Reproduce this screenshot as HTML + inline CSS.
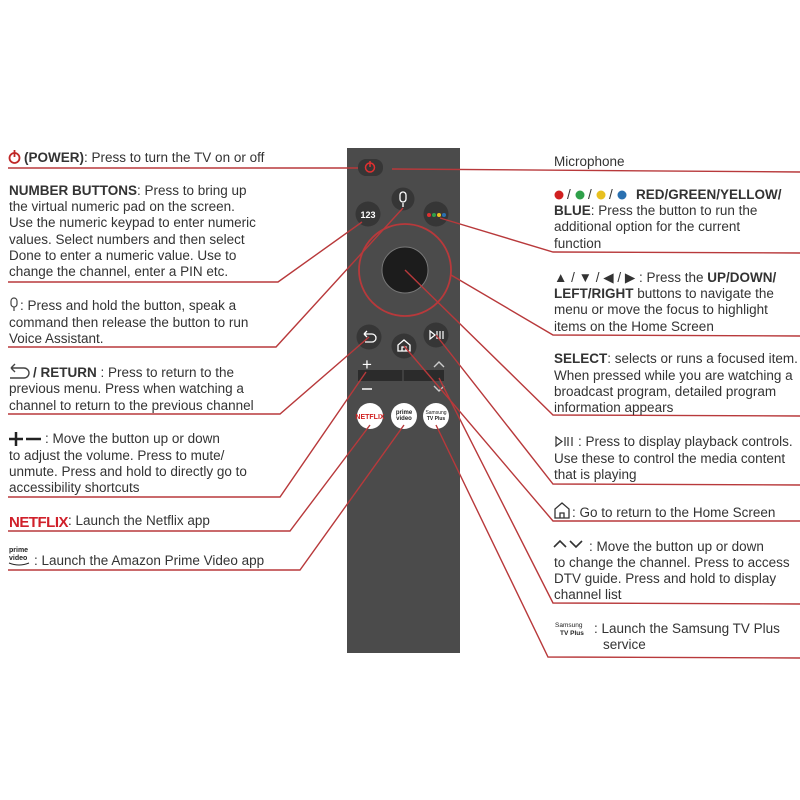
<!DOCTYPE html>
<html><head><meta charset="utf-8"><style>
html,body{margin:0;padding:0;background:#fff;}
svg{display:block;}
text{font-family:"Liberation Sans","DejaVu Sans",sans-serif;font-size:13.5px;fill:#333;}
.b{font-weight:bold;}
.l{stroke:#b8393b;stroke-width:1.4;fill:none;}
</style></head><body>
<svg width="800" height="800" viewBox="0 0 800 800" xmlns="http://www.w3.org/2000/svg">
<!-- remote -->
<rect x="347" y="148" width="113" height="505" fill="#4b4b4b"/>
<rect x="358" y="159" width="25" height="17" rx="8" fill="#363636"/>
<circle cx="370" cy="167.5" r="4.5" fill="none" stroke="#e03030" stroke-width="1.5"/>
<line x1="370" y1="161" x2="370" y2="167" stroke="#e03030" stroke-width="1.5"/>
<circle cx="403" cy="199" r="11.5" fill="#363636"/>
<rect x="400" y="192" width="6" height="10" rx="3" fill="none" stroke="#fff" stroke-width="1.3"/>
<line x1="403" y1="203" x2="403" y2="207" stroke="#fff" stroke-width="1.3"/>
<circle cx="368" cy="214" r="12.5" fill="#363636"/>
<text x="368" y="218" text-anchor="middle" style="font-size:9px;font-weight:bold;fill:#fff">123</text>
<circle cx="436" cy="214" r="12.5" fill="#363636"/>
<circle cx="429" cy="215" r="2" fill="#e03030"/><circle cx="434" cy="215" r="2" fill="#2fa04a"/><circle cx="439" cy="215" r="2" fill="#e8c020"/><circle cx="444" cy="215" r="2" fill="#2a70b0"/>
<circle cx="405" cy="270" r="46" fill="none" stroke="#b8393b" stroke-width="1.8"/>
<circle cx="405" cy="270" r="23" fill="#1c1c1c" stroke="#777" stroke-width="1"/>
<circle cx="369" cy="337" r="12.5" fill="#363636"/>
<path d="M364 334 h8 a4 4 0 0 1 0 8 h-7 M364 334 l3 -3 M364 334 l3 3" stroke="#fff" stroke-width="1.3" fill="none"/>
<circle cx="404" cy="346" r="12.5" fill="#363636"/>
<path d="M398 351 v-6 l6 -5 l6 5 v6 z M402 351 v-4 h4 v4" stroke="#fff" stroke-width="1.3" fill="none"/>
<circle cx="436" cy="335" r="12.5" fill="#363636"/>
<path d="M430 331 l5 4 l-5 4 z M437 331 v8 M440 331 v8 M443 331 v8" stroke="#fff" stroke-width="1.2" fill="none"/>
<text x="367" y="370" text-anchor="middle" style="font-size:17px;fill:#fff">+</text>
<rect x="358" y="370" width="86" height="11" fill="#2b2b2b"/>
<line x1="403" y1="370" x2="403" y2="381" stroke="#555" stroke-width="1"/>
<line x1="362" y1="389" x2="372" y2="389" stroke="#fff" stroke-width="1.5"/>
<path d="M434 367 l5 -5 l5 5" stroke="#ccc" stroke-width="1.4" fill="none"/>
<path d="M434 386 l5 5 l5 -5" stroke="#ccc" stroke-width="1.4" fill="none"/>
<circle cx="370" cy="416" r="13" fill="#fff"/>
<text x="370" y="419" text-anchor="middle" style="font-size:7px;font-weight:bold;fill:#d02020">NETFLIX</text>
<circle cx="404" cy="416" r="13" fill="#fff"/>
<text x="404" y="414" text-anchor="middle" style="font-size:6px;font-weight:bold;fill:#222">prime</text>
<text x="404" y="420" text-anchor="middle" style="font-size:6px;font-weight:bold;fill:#222">video</text>
<circle cx="436" cy="416" r="13" fill="#fff"/>
<text x="436" y="414" text-anchor="middle" style="font-size:5px;fill:#222">Samsung</text>
<text x="436" y="420" text-anchor="middle" style="font-size:5px;font-weight:bold;fill:#222">TV Plus</text>

<!-- leader lines -->
<polyline class="l" points="8,168 358,168"/>
<polyline class="l" points="392,169 800,172"/>
<polyline class="l" points="8,282 278,282 362,222"/>
<polyline class="l" points="8,347 276,347 403,208"/>
<polyline class="l" points="8,414 280,414 369,337"/>
<polyline class="l" points="8,497 280,497 366,372"/>
<polyline class="l" points="8,531 290,531 370,425"/>
<polyline class="l" points="8,570 300,570 404,425"/>
<polyline class="l" points="800,253 553,252 440,218"/>
<polyline class="l" points="800,336 553,335 451,275"/>
<polyline class="l" points="800,416 553,415 405,270"/>
<polyline class="l" points="800,485 553,484 436,335"/>
<polyline class="l" points="800,521 553,521 404,346"/>
<polyline class="l" points="800,604 553,603 439,378"/>
<polyline class="l" points="800,658 548,657 436,425"/>

<!-- left text -->
<circle cx="14.5" cy="158" r="5" fill="none" stroke="#c02828" stroke-width="1.8"/>
<line x1="14.5" y1="150" x2="14.5" y2="157" stroke="#c02828" stroke-width="1.8"/>
<text x="24" y="162"><tspan class="b">(POWER)</tspan>: Press to turn the TV on or off</text>
<text x="9" y="195"><tspan class="b">NUMBER BUTTONS</tspan>: Press to bring up</text>
<text x="9" y="211">the virtual numeric pad on the screen.</text>
<text x="9" y="227">Use the numeric keypad to enter numeric</text>
<text x="9" y="244">values. Select numbers and then select</text>
<text x="9" y="260">Done to enter a numeric value. Use to</text>
<text x="9" y="276">change the channel, enter a PIN etc.</text>
<rect x="11" y="298" width="6" height="9" rx="3" fill="none" stroke="#444" stroke-width="1.2"/>
<line x1="14" y1="307" x2="14" y2="311" stroke="#444" stroke-width="1.2"/>
<text x="20" y="310">: Press and hold the button, speak a</text>
<text x="9" y="327">command then release the button to run</text>
<text x="9" y="343">Voice Assistant.</text>
<path d="M11 368 h13 a5 5 0 0 1 0 10 h-14 M11 368 l4 -4 M11 368 l4 4" stroke="#444" stroke-width="1.4" fill="none"/>
<text x="33" y="377"><tspan class="b">/ RETURN</tspan> : Press to return to the</text>
<text x="9" y="393">previous menu. Press when watching a</text>
<text x="9" y="410">channel to return to the previous channel</text>
<path d="M9 439 h14 M16 432 v14 M26 439 h15" stroke="#222" stroke-width="2.5"/>
<text x="45" y="443">: Move the button up or down</text>
<text x="9" y="460">to adjust the volume. Press to mute/</text>
<text x="9" y="476">unmute. Press and hold to directly go to</text>
<text x="9" y="492">accessibility shortcuts</text>
<text x="9" y="527" style="font-size:15px;font-weight:bold;fill:#d0202a;letter-spacing:-0.5px">NETFLIX</text>
<text x="68" y="525">: Launch the Netflix app</text>
<text x="9" y="552" style="font-size:7px;font-weight:bold;fill:#222">prime</text>
<text x="9" y="560" style="font-size:7px;font-weight:bold;fill:#222">video</text>
<path d="M9 563 q10 4 20 0" stroke="#222" stroke-width="1" fill="none"/>
<text x="34" y="565">: Launch the Amazon Prime Video app</text>

<!-- right text -->
<text x="554" y="166">Microphone</text>
<circle cx="559" cy="195" r="4.5" fill="#d02020"/>
<text x="567" y="199">/</text>
<circle cx="580" cy="195" r="4.5" fill="#2fa04a"/>
<text x="588" y="199">/</text>
<circle cx="601" cy="195" r="4.5" fill="#e8c020"/>
<text x="609" y="199">/</text>
<circle cx="622" cy="195" r="4.5" fill="#2a70b0"/>
<text x="636" y="199" class="b">RED/GREEN/YELLOW/</text>
<text x="554" y="215"><tspan class="b">BLUE</tspan>: Press the button to run the</text>
<text x="554" y="231">additional option for the current</text>
<text x="554" y="248">function</text>
<text x="554" y="282">▲ / ▼ / ◀ / ▶ : Press the <tspan class="b">UP/DOWN/</tspan></text>
<text x="554" y="298"><tspan class="b">LEFT/RIGHT</tspan> buttons to navigate the</text>
<text x="554" y="314">menu or move the focus to highlight</text>
<text x="554" y="331">items on the Home Screen</text>
<text x="554" y="363"><tspan class="b">SELECT</tspan>: selects or runs a focused item.</text>
<text x="554" y="380">When pressed while you are watching a</text>
<text x="554" y="396">broadcast program, detailed program</text>
<text x="554" y="412">information appears</text>
<path d="M556 437 l6 4.5 l-6 4.5 z M565 437 v9 M568 437 v9 M572 437 v9" stroke="#333" stroke-width="1.2" fill="none"/>
<text x="578" y="446">: Press to display playback controls.</text>
<text x="554" y="463">Use these to control the media content</text>
<text x="554" y="479">that is playing</text>
<path d="M555 518 v-9 l7 -6 l7 6 v9 z M560 518 v-5 h4 v5" stroke="#333" stroke-width="1.3" fill="none"/>
<text x="572" y="517">: Go to return to the Home Screen</text>
<path d="M554 547 l6 -6 l6 6 M570 541 l6 6 l6 -6" stroke="#333" stroke-width="1.6" fill="none"/>
<text x="589" y="551">: Move the button up or down</text>
<text x="554" y="567">to change the channel. Press to access</text>
<text x="554" y="583">DTV guide. Press and hold to display</text>
<text x="554" y="599">channel list</text>
<text x="555" y="627" style="font-size:6.5px;fill:#222">Samsung</text>
<text x="560" y="635" style="font-size:6.5px;font-weight:bold;fill:#222">TV Plus</text>
<text x="594" y="633">: Launch the Samsung TV Plus</text>
<text x="603" y="649">service</text>
</svg>
</body></html>
